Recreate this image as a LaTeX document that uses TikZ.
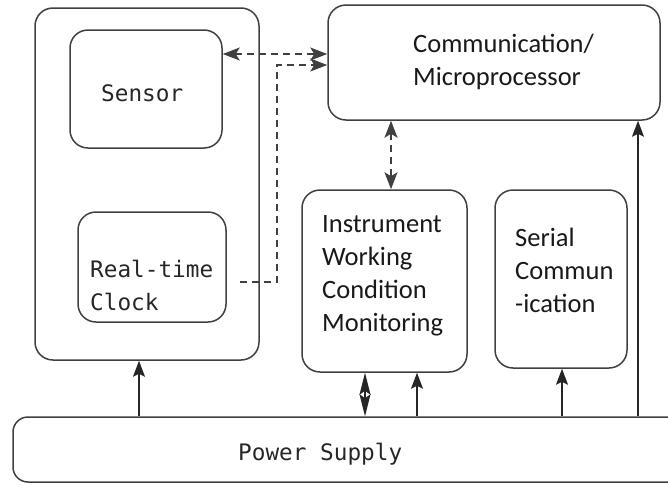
\documentclass[tikz,border=0pt]{standalone}
\usepackage{fontspec}
\usepackage{tikz}
\usetikzlibrary{arrows.meta}
\newfontfamily\boxsans{Carlito}
\newfontfamily\boxmono{DejaVu Sans Mono}
\tikzset{
	block/.style={draw=black!75, line width=1.5pt, rounded corners=18pt, inner sep=0pt},
	sanslabel/.style={anchor=west, align=left, inner sep=0pt, font=\boxsans\fontsize{26.5}{33}\selectfont, text=black!90},
	monolabel/.style={anchor=west, align=left, inner sep=0pt, font=\boxmono\fontsize{22.7}{33}\selectfont, text=black!85},
	uparrow/.style={draw=black!85, line width=1.3pt, -{Stealth[length=16pt,width=12pt,inset=3pt]}},
	dashline/.style={draw=black!75, line width=1.5pt, dash pattern=on 7pt off 5pt},
	dasharrow/.style={dashline, {Stealth[length=17pt,width=13pt,inset=4pt]}-{Stealth[length=17pt,width=13pt,inset=4pt]}}
}
\begin{document}
\begin{tikzpicture}[x=1pt, y=-1pt]
		%%%%% START %%%%%
		\useasboundingbox (0,0) rectangle (668,485);
		
		% boxes
		\node[block, minimum width=224pt, minimum height=352pt] (big) at (147,184) {};
		\node[block, minimum width=152pt, minimum height=118pt] (sensor) at (146,89) {};
		\node[block, minimum width=148pt, minimum height=110pt] (clock) at (152,267) {};
		\node[block, minimum width=332pt, minimum height=115pt] (comm) at (494,62.5) {};
		\node[block, minimum width=165pt, minimum height=182pt] (instr) at (384.5,281) {};
		\node[block, minimum width=132pt, minimum height=178pt] (serial) at (561,279) {};
		\node[block, rounded corners=15pt, minimum width=687pt, minimum height=65pt] (power) at (356.5,449.5) {};
		
		% texts
		\node[monolabel] (sensortext) at (101,93) {Sensor};
		\node[monolabel] (clocktext) at (90,285) {Real-time\\Clock};
		\node[sanslabel] (commtext) at (413,62) {Communication/\\Microprocessor};
		\node[sanslabel] (instrtext) at (322,276) {Instrument\\Working\\Condition\\Monitoring};
		\node[sanslabel] (serialtext) at (515,270) {Serial\\Commun\\-ication};
		\node[monolabel] (powertext) at (238,454) {Power Supply};
		
		% supply lines
		\coordinate (xa) at (139,0);
		\coordinate (xb) at (365,0);
		\coordinate (xc) at (417,0);
		\coordinate (xd) at (562,0);
		\coordinate (xe) at (638,0);
		\coordinate (xf) at (391,0);
		\draw[uparrow] (power.north -| xa) -- (big.south -| xa);
		\draw[draw=black!85, line width=1.3pt, {Stealth[length=22pt,width=11pt,inset=4pt]}-{Stealth[length=22pt,width=11pt,inset=4pt]}] (power.north -| xb) -- (instr.south -| xb);
		\draw[uparrow] (power.north -| xc) -- (instr.south -| xc);
		\draw[uparrow] (power.north -| xd) -- (serial.south -| xd);
		\draw[uparrow] (power.north -| xe) -- (comm.south -| xe);
		
		% data lines
		\coordinate (ya) at (0,54);
		\coordinate (yb) at (0,65);
		\coordinate (yc) at (0,282);
		\coordinate (bend) at (277,282);
		\draw[dasharrow] (comm.south -| xf) -- (instr.north -| xf);
		\draw[dasharrow] (sensor.east |- ya) -- (comm.west |- ya);
		\draw[dashline, -{Stealth[length=17pt,width=13pt,inset=4pt]}, shorten <=13pt] (clock.east |- yc) -- (bend) -- (bend |- yb) -- (comm.west |- yb);
		
		%%%%% END %%%%%
\end{tikzpicture}
\end{document}
